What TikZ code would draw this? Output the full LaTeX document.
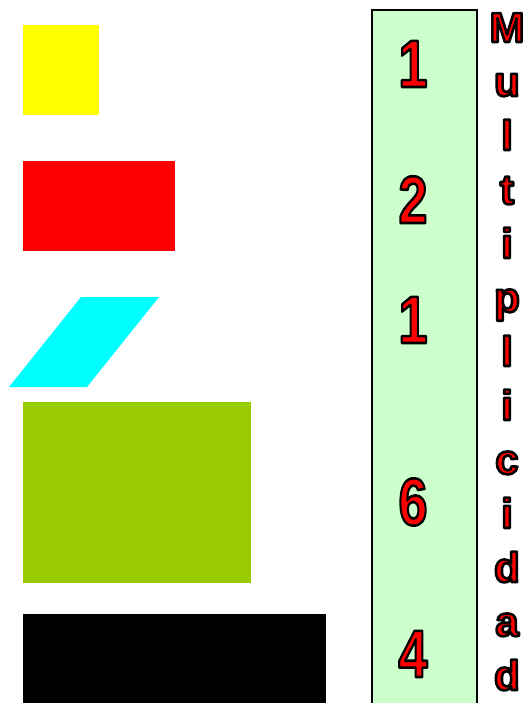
\documentclass[tikz,border=0pt]{standalone}
\usepackage{fontspec}
\setmainfont{Liberation Sans}
\usepackage{tikz}
\usetikzlibrary{positioning,calc}
\usepackage{xcolor}
\definecolor{colYellow}{HTML}{FFFF00}
\definecolor{colRed}{HTML}{FF0000}
\definecolor{colCyan}{HTML}{00FFFF}
\definecolor{colLime}{HTML}{99CC00}
\definecolor{colPale}{HTML}{CCFFCC}
% red glyphs with a black outline (fill, then stroke)
\newcommand{\outlined}[1]{%
  \special{pdf:literal direct 2 Tr 2.6 w 1 j 0 0 0 RG}#1%
  \special{pdf:literal direct 0 Tr}}

\begin{document}
\begin{tikzpicture}[
  x=1pt, y=-1pt,
  num/.style={anchor=base, inner sep=0pt, xscale=0.78,
              font=\bfseries\fontsize{67}{67}\selectfont, text=colRed},
  letter/.style={anchor=base, inner sep=0pt,
                 font=\bfseries\fontsize{42}{42}\selectfont, text=colRed}
]
\useasboundingbox (0,0) rectangle (528,703);

% pieces
\fill[colYellow] (23,25) rectangle (99,115);
\fill[colRed] (23,161) rectangle (175,251);
\fill[colCyan] (9,387) -- (81,297) -- (159,297) -- (87,387) -- cycle;
\fill[colLime] (23,402) rectangle (251,583);
\fill[black] (23,614) rectangle (326,703);

% column of counts
\draw[fill=colPale, line width=1.5pt] (372,10) rectangle (477,712);
\node[num] (n1) at (413,87)  {\outlined{1}};
\node[num] (n2) at (413,223) {\outlined{2}};
\node[num] (n3) at (413,343) {\outlined{1}};
\node[num] (n4) at (413,525) {\outlined{6}};
\node[num] (n5) at (413,677) {\outlined{4}};

% vertical word
\foreach \ch [count=\i from 0] in {M,u,l,t,i,p,l,i,c,i,d,a,d}
  \node[letter] (w\i) at (507,42+54*\i) {\outlined{\ch}};
\end{tikzpicture}
\end{document}
